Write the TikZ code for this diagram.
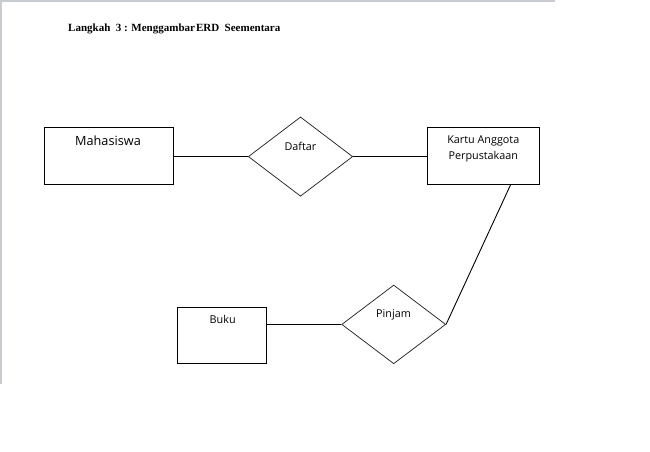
\documentclass[tikz,border=0pt]{standalone}
\usepackage{fontspec}
\setmainfont{Open Sans}
\newfontfamily\titlefont{Liberation Serif}
\usetikzlibrary{shapes.geometric}
\definecolor{barcol}{RGB}{200,204,209}
\tikzset{
  entity/.style={draw=black, line width=0.9pt, rectangle, inner sep=0pt},
  relation/.style={draw=black!85, line width=0.75pt, diamond, inner sep=0pt},
  conn/.style={draw=black, line width=0.9pt},
  lbl/.style={inner sep=0pt, font=\fontsize{10.8}{16}\selectfont, text=black},
}
\begin{document}
\begin{tikzpicture}[x=1pt, y=-1pt]
\useasboundingbox (0,0) rectangle (650,452);
\fill[barcol] (0,0) rectangle (555,2.2);
\fill[barcol] (0,0) rectangle (1.6,384);
\node[anchor=west, inner sep=0pt, font=\titlefont\bfseries\fontsize{11}{12}\selectfont] (title) at (68,28.5) {Langkah\ \ 3 : Menggambar\hspace{1pt}ERD\ \ Seementara};

\node[entity, minimum width=129pt, minimum height=56.7pt] (m) at (109.2,155.7) {};
\node[lbl, font=\fontsize{12.7}{14}\selectfont] (mt) at (108,141) {Mahasiswa};

\node[relation, minimum width=104.4pt, minimum height=79.3pt] (d) at (300.5,156.6) {};
\node[lbl] (dt) at (300.5,146.5) {Daftar};

\node[entity, minimum width=112pt, minimum height=56.7pt] (k) at (483.3,155.7) {};
\node[lbl, align=center] (kt) at (483.3,148.5) {Kartu Anggota\\Perpustakaan};

\node[entity, minimum width=89pt, minimum height=56.4pt] (b) at (221.8,335.5) {};
\node[lbl] (bt) at (222.7,319.5) {Buku};

\node[relation, minimum width=104pt, minimum height=78.7pt] (p) at (393.7,324.4) {};
\node[lbl] (pt) at (393.5,315) {Pinjam};

\draw[conn] (m.east |- d.west) -- (d.west);
\draw[conn] (d.east) -- (k.west |- d.east);
\draw[conn] (b.east |- p.west) -- (p.west);
\draw[conn] ([xshift=27.4pt]k.south) -- (p.east);
\end{tikzpicture}
\end{document}
